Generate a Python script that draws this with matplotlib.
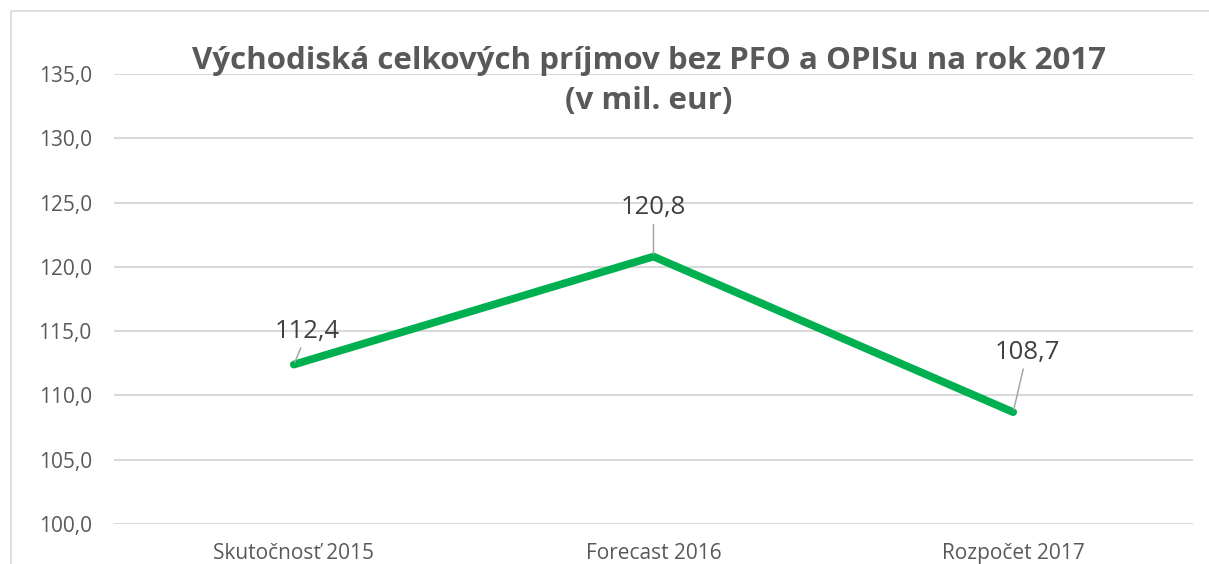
import matplotlib.pyplot as plt
from matplotlib.patches import Rectangle

# data
categories = ['Skutočnosť 2015', 'Forecast 2016', 'Rozpočet 2017']
values = [112.4, 120.8, 108.7]
value_labels = ['112,4', '120,8', '108,7']
yticks = [100, 105, 110, 115, 120, 125, 130, 135]
label_offsets = [(10, 24), (0, 35), (10, 43)]  # points

plt.rcParams['font.family'] = ['Open Sans', 'DejaVu Sans']

W, H = 1209, 564
fig = plt.figure(figsize=(W / 100, H / 100), dpi=100)
ax = fig.add_axes([114 / W, (H - 524) / H, (1193 - 114) / W, 450 / H])

# chart border (excel style)
fig.patches.append(Rectangle((11 / W, -0.1), 1.2, (H - 11) / H + 0.1,
                             transform=fig.transFigure, fill=False,
                             edgecolor='#D9D9D9', linewidth=1.2))

x = list(range(len(categories)))
ax.plot(x, values, color='#00B050', linewidth=5.6, solid_capstyle='round',
        solid_joinstyle='round', zorder=3)

for xi, v, lab, off in zip(x, values, value_labels, label_offsets):
    ax.annotate(lab, (xi, v), xytext=off, textcoords='offset points',
                ha='center', va='center', fontsize=18.5, color='#404040',
                arrowprops=dict(arrowstyle='-', color='#A6A6A6', lw=1.1,
                                shrinkA=1, shrinkB=2), zorder=4)

ax.set_xlim(-0.5, 2.5)
ax.set_ylim(100, 135)
ax.set_yticks(yticks)
ax.set_yticklabels([f'{t:.1f}'.replace('.', ',') for t in yticks])
ax.set_xticks(x)
ax.set_xticklabels(categories)
ax.tick_params(axis='both', length=0, labelsize=15, labelcolor='#595959')
ax.tick_params(axis='y', pad=16)
ax.tick_params(axis='x', pad=14)
ax.grid(axis='y', color='#D9D9D9', linewidth=1.5)
ax.set_axisbelow(True)
for s in ax.spines.values():
    s.set_visible(False)

fig.text(649 / W, (H - 46) / H,
         'Východiská celkových príjmov bez PFO a OPISu na rok 2017\n(v mil. eur)',
         ha='center', va='top', fontsize=22.5, fontweight='bold',
         color='#595959', linespacing=1.45)

fig.savefig('out.png', dpi=100)
